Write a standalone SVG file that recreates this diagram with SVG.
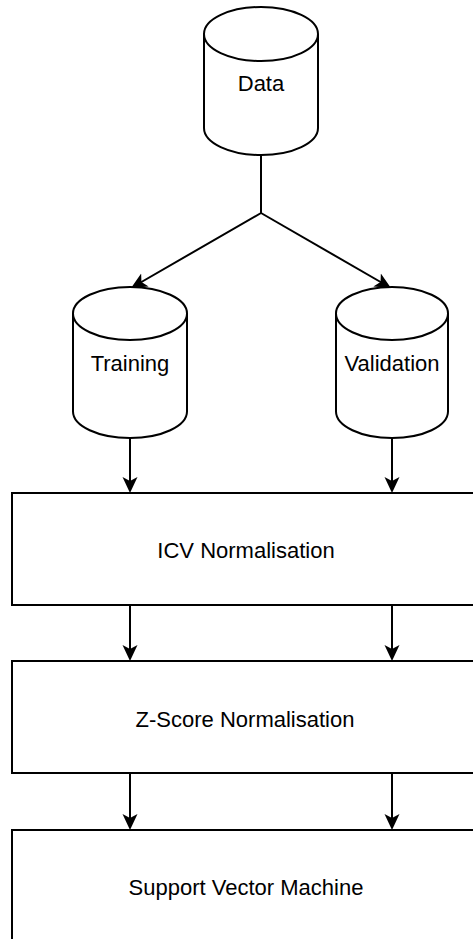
<svg xmlns="http://www.w3.org/2000/svg" width="473" height="939" viewBox="0 0 473 939">
<style>
.shape{fill:#fff;stroke:#000;stroke-width:2}
.edge{fill:none;stroke:#000;stroke-width:2;marker-end:url(#arr)}
.lbl{font-family:"Liberation Sans",Arial,Helvetica,sans-serif;font-size:22px;fill:#000;text-anchor:middle}
</style>
<defs>
<marker id="arr" markerUnits="userSpaceOnUse" viewBox="0 0 16 16" markerWidth="16" markerHeight="16" refX="12" refY="8" orient="auto">
<path d="M0,0.5 L16,8 L0,15.5 L4,8 Z" fill="#000"/>
</marker>
</defs>
<rect width="473" height="939" fill="#fff"/>
<g id="connectors">
<path class="edge" d="M261,155 L261,213 L134.5,286"/>
<path class="edge" d="M261,213 L387.5,286"/>
<path class="edge" d="M130,438 L130,489"/>
<path class="edge" d="M392,438 L392,489"/>
<path class="edge" d="M130,605 L130,657"/>
<path class="edge" d="M392,605 L392,657"/>
<path class="edge" d="M130,773 L130,826"/>
<path class="edge" d="M392,773 L392,826"/>
</g>
<g id="data">
<path class="shape" d="M204,34 A57,27 0 0 1 318,34 L318,128 A57,27 0 0 1 204,128 Z"/>
<path class="shape" style="fill:none" d="M204,34 A57,27 0 0 0 318,34"/>
<text class="lbl" x="261" y="91">Data</text>
</g>
<g id="training">
<path class="shape" d="M73,313.5 A57,26.5 0 0 1 187,313.5 L187,411.5 A57,26.5 0 0 1 73,411.5 Z"/>
<path class="shape" style="fill:none" d="M73,313.5 A57,26.5 0 0 0 187,313.5"/>
<text class="lbl" x="130" y="371">Training</text>
</g>
<g id="validation">
<path class="shape" d="M336,313.5 A56,26.5 0 0 1 448,313.5 L448,411.5 A56,26.5 0 0 1 336,411.5 Z"/>
<path class="shape" style="fill:none" d="M336,313.5 A56,26.5 0 0 0 448,313.5"/>
<text class="lbl" x="392" y="371">Validation</text>
</g>
<g id="icv">
<rect class="shape" x="12" y="493" width="470" height="112"/>
<text class="lbl" x="246" y="558">ICV Normalisation</text>
</g>
<g id="zscore">
<rect class="shape" x="12" y="661" width="470" height="112"/>
<text class="lbl" x="245" y="727">Z-Score Normalisation</text>
</g>
<g id="svm">
<rect class="shape" x="12" y="830" width="470" height="120"/>
<text class="lbl" x="246" y="895">Support Vector Machine</text>
</g>
</svg>
